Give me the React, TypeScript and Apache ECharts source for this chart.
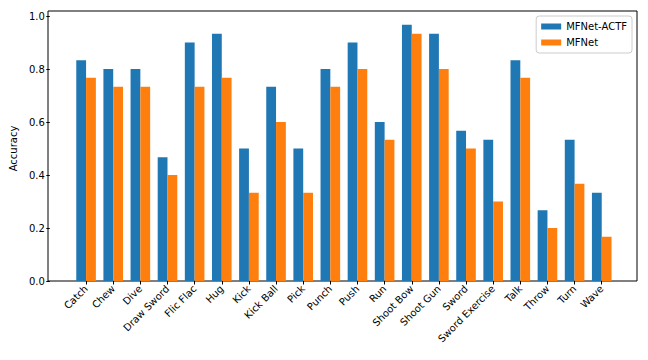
import React, { useEffect, useRef } from "react";
import * as echarts from "echarts";

const categories = ["Catch", "Chew", "Dive", "Draw Sword", "Flic Flac", "Hug", "Kick", "Kick Ball", "Pick", "Punch", "Push", "Run", "Shoot Bow", "Shoot Gun", "Sword", "Sword Exercise", "Talk", "Throw", "Turn", "Wave"];
const mfnetActf = [0.833, 0.8, 0.8, 0.467, 0.9, 0.933, 0.5, 0.733, 0.5, 0.8, 0.9, 0.6, 0.967, 0.933, 0.567, 0.533, 0.833, 0.267, 0.533, 0.333];
const mfnet = [0.767, 0.733, 0.733, 0.4, 0.733, 0.767, 0.333, 0.6, 0.333, 0.733, 0.8, 0.533, 0.933, 0.8, 0.5, 0.3, 0.767, 0.2, 0.367, 0.167];
const seriesNames = ["MFNet-ACTF", "MFNet"];

export default function App() {
  const ref = useRef<HTMLDivElement>(null);
  useEffect(() => {
    const chart = echarts.init(ref.current!, null, { renderer: "svg" });
    const font = "DejaVu Sans";
    chart.setOption({
      animation: false,
      textStyle: { fontFamily: font },
      legend: {
        data: seriesNames,
        orient: "vertical",
        right: 16,
        top: 16,
        itemWidth: 20,
        itemHeight: 6,
        itemGap: 5,
        itemTextGap: 8,
        icon: "rect",
        padding: [5, 5, 5, 5],
        borderColor: "#cccccc",
        borderWidth: 1,
        borderRadius: 3,
        backgroundColor: "#ffffff",
        textStyle: { fontFamily: font, fontSize: 10, color: "#000", lineHeight: 11 },
      },
      grid: [
        { left: 48, right: 11, top: 11, bottom: 79, show: true, borderColor: "#000", borderWidth: 1, backgroundColor: "transparent" },
        { left: 70.7, right: 32.7, top: 16, bottom: 79 },
      ],
      xAxis: [
        { gridIndex: 0, type: "value", show: false, min: 0, max: 1 },
        {
          gridIndex: 1,
          type: "category",
          data: categories,
          axisLine: { show: false },
          axisTick: { show: true, alignWithLabel: true, length: 3.5, lineStyle: { color: "#000" } },
          axisLabel: { rotate: 45, fontSize: 10, color: "#000", margin: 6, interval: 0, fontFamily: font },
        },
      ],
      yAxis: [
        { gridIndex: 0, type: "value", show: false, min: 0, max: 1 },
        {
          gridIndex: 1,
          type: "value",
          min: 0,
          max: 1,
          interval: 0.2,
          offset: 22.7,
          name: "Accuracy",
          nameLocation: "middle",
          nameGap: 30,
          nameTextStyle: { fontSize: 10, color: "#000", fontFamily: font },
          axisLine: { show: false },
          axisTick: { show: true, length: 3.5, lineStyle: { color: "#000" } },
          axisLabel: { fontSize: 10, color: "#000", margin: 5, formatter: (v: number) => v.toFixed(1), fontFamily: font },
          splitLine: { show: false },
        },
      ],
      series: [
        { name: seriesNames[0], type: "bar", xAxisIndex: 1, yAxisIndex: 1, data: mfnetActf, barWidth: 9.8, barGap: "0%", itemStyle: { color: "#1f77b4" } },
        { name: seriesNames[1], type: "bar", xAxisIndex: 1, yAxisIndex: 1, data: mfnet, barWidth: 9.8, barGap: "0%", itemStyle: { color: "#ff7f0e" } },
      ],
    });
    return () => chart.dispose();
  }, []);
  return <div ref={ref} style={{ width: 648, height: 360, position: "absolute", left: 0, top: 0 }} />;
}
